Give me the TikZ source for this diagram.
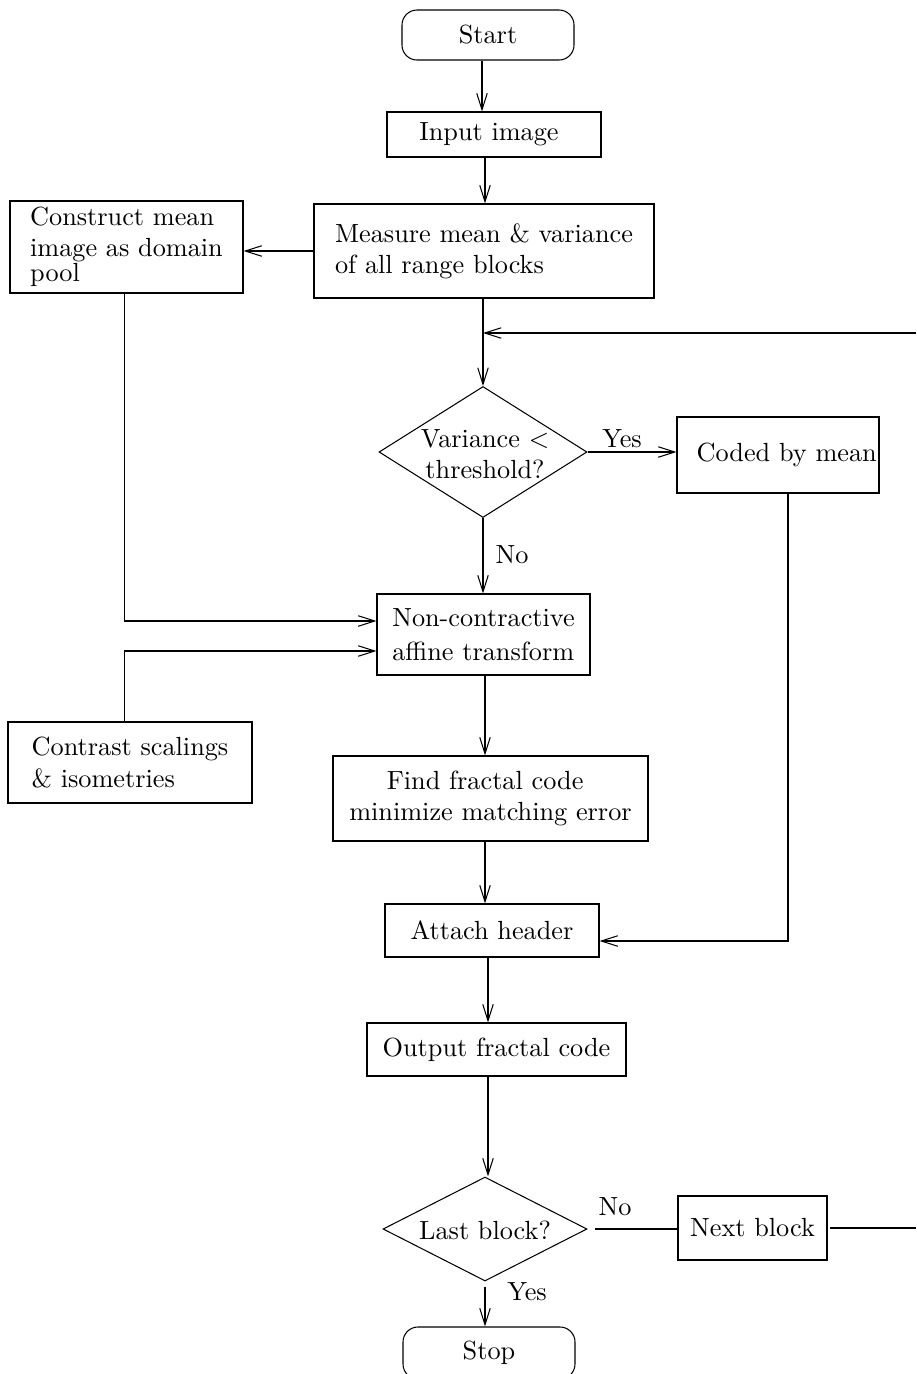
\documentclass[tikz,border=0pt]{standalone}
\usetikzlibrary{shapes.geometric,arrows.meta,calc}
\begin{document}
\begin{tikzpicture}[x=0.4pt,y=-0.4pt, line width=0.42pt,
  font=\fontsize{10.5}{12.5}\selectfont,
  box/.style={draw, rectangle, inner sep=0pt, align=left},
  term/.style={box, rounded corners=6pt},
  dia/.style={draw, diamond, inner sep=0pt},
  arr/.style={-{Straight Barb[length=6.6pt,width=4.2pt]}},
  lbl/.style={inner sep=0pt}]
\useasboundingbox (0,0) rectangle (916,1374);

% nodes
\node[term, minimum width=68.8pt, minimum height=20pt] (start) at (488,35) {Start};
\node[box, minimum width=85.6pt, minimum height=18pt] (input) at (494,134.5) {Input image\hspace{4pt}};
\node[box, minimum width=136pt, minimum height=37.6pt] (measure) at (484,251) {Measure mean \& variance\\of all range blocks};
\node[box, minimum width=93.2pt, minimum height=36.8pt] (construct) at (126.5,247) {Construct mean\\image as domain\\[-2.5pt]pool};
\node[dia, minimum width=83.2pt, minimum height=52.4pt] (var) at (483,452) {};
\node[align=center, inner sep=0pt] (vart) at (485,454) {Variance <\\threshold?};
\node[box, minimum width=80.8pt, minimum height=30.4pt] (coded) at (778,455) {\hspace{7pt}Coded by mean};
\node[box, minimum width=85.2pt, minimum height=32.4pt] (noncon) at (483.5,634.5) {Non-contractive\\[1pt]affine transform};
\node[box, minimum width=97.6pt, minimum height=32.4pt] (contrast) at (130,762.5) {Contrast scalings\\\& isometries};
\node[box, minimum width=126pt, minimum height=34pt] (find) at (490.5,798.5) {\hspace*{15pt}Find fractal code\\minimize matching error};
\node[box, minimum width=85.6pt, minimum height=21.2pt] (attach) at (492,930.5) {Attach header};
\node[box, minimum width=103.6pt, minimum height=21.2pt] (output) at (496.5,1049.5) {Output fractal code};
\node[dia, minimum width=81.6pt, minimum height=41.6pt] (last) at (485,1229) {};
\node[inner sep=0pt] (lastt) at (485,1230) {Last block?};
\node[box, minimum width=59.6pt, minimum height=25.6pt] (next) at (752.5,1228) {Next block};
\node[term, minimum width=68.8pt, minimum height=20.8pt] (stop) at (489,1353) {Stop};

% labels
\node[lbl] (yes1) at (622,439) {Yes};
\node[lbl] (no1) at (512,555) {No};
\node[lbl] (no2) at (615,1207) {No};
\node[lbl] (yes2) at (527,1292) {Yes};

% helper coordinates
\coordinate (ax) at (485,0);
\coordinate (ax2) at (482,0);
\coordinate (ax3) at (488,0);
\coordinate (cx) at (124.5,0);
\coordinate (dx) at (788,0);
\coordinate (loopR) at (916,333);

% connectors
\draw[arr] (start.south -| ax2) -- (input.north -| ax2);
\draw[arr] (input.south -| ax) -- (measure.north -| ax);
\draw[arr] (measure.west) -- (measure.west -| construct.east);
\draw[arr] (measure.south -| var.north) -- (var.north);
\draw[arr] (loopR) -- (loopR -| var.north);
\draw[arr] (var.east) -- (var.east -| coded.west);
\draw[arr] (var.south) -- (var.south |- noncon.north);
\draw[arr] (construct.south -| cx) |- ($(noncon.west)+(0,-13.5)$);
\draw[arr] (contrast.north -| cx) |- ($(noncon.west)+(0,16.5)$);
\draw[arr] (noncon.south -| ax) -- (find.north -| ax);
\draw[arr] (find.south -| ax) -- (attach.north -| ax);
\draw[arr] (coded.south -| dx) |- ($(attach.east)+(0,10.5)$);
\draw[arr] (attach.south -| ax3) -- (output.north -| ax3);
\draw[arr] (output.south -| ax3) -- (last.north -| ax3);
\draw[shorten <=3pt] (last.east) -- (last.east -| next.west);
\draw[shorten <=1pt] (next.east) -- (next.east -| loopR);
\draw[arr, shorten <=2pt] (last.south) -- (last.south |- stop.north);
\end{tikzpicture}
\end{document}
